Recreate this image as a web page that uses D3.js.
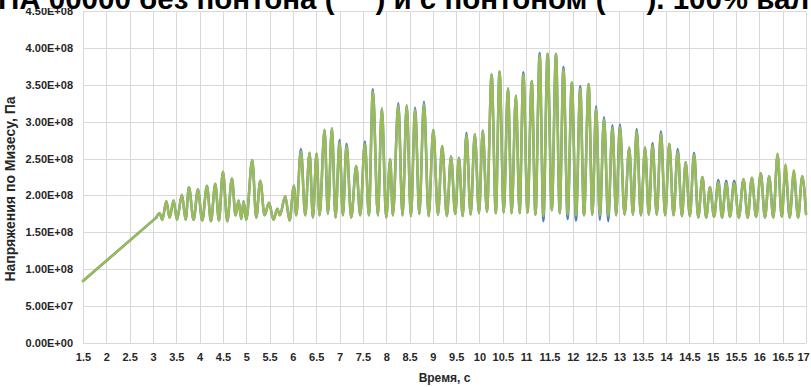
<!DOCTYPE html>
<html><head><meta charset="utf-8">
<script src="https://cdn.jsdelivr.net/npm/d3@7"></script>
<style>
html,body{margin:0;padding:0;background:#fff;overflow:hidden;}
svg{display:block;}
</style></head>
<body><svg id="chart" width="811" height="387"></svg>
<script>
const titleText = "НА 00000 без понтона (     ) и с понтоном (     ). 100% вал";
const yTitle = "Напряжения по Мизесу, Па";
const xTitle = "Время, с";
const xTicks = [1.5,2,2.5,3,3.5,4,4.5,5,5.5,6,6.5,7,7.5,8,8.5,9,9.5,10,10.5,11,11.5,12,12.5,13,13.5,14,14.5,15,15.5,16,16.5,17];
const yTicks = [0,5e7,1e8,1.5e8,2e8,2.5e8,3e8,3.5e8,4e8,4.5e8];

const times = [1.5,3.07,3.143,3.2,3.286,3.357,3.443,3.514,3.621,3.7,
3.771,3.871,3.964,4.057,4.157,4.243,4.336,4.414,4.5,4.593,
4.693,4.771,4.836,4.893,4.943,5.0,5.129,5.214,5.3,5.393,
5.486,5.586,5.664,5.721,5.836,5.929,6.021,6.071,6.171,6.264,
6.357,6.429,6.507,6.571,6.679,6.75,6.836,6.914,7.0,7.071,
7.15,7.25,7.357,7.443,7.543,7.629,7.714,7.821,7.907,8.0,
8.086,8.143,8.26,8.35,8.44,8.53,8.62,8.71,8.81,8.91,
9.01,9.11,9.20,9.30,9.39,9.48,9.56,9.64,9.72,9.81,
9.90,9.99,10.07,10.16,10.26,10.35,10.43,10.52,10.61,10.69,
10.78,10.86,10.94,11.03,11.12,11.20,11.29,11.37,11.46,11.55,
11.64,11.72,11.80,11.89,11.98,12.07,12.16,12.24,12.34,12.42,
12.50,12.58,12.67,12.76,12.85,12.93,13.01,13.11,13.21,13.29,
13.37,13.46,13.55,13.63,13.71,13.80,13.89,13.98,14.07,14.16,
14.25,14.34,14.42,14.51,14.60,14.69,14.78,14.86,14.94,15.03,
15.12,15.20,15.29,15.37,15.46,15.56,15.66,15.75,15.84,15.93,
16.03,16.12,16.21,16.30,16.39,16.48,16.56,16.65,16.74,16.83,
16.92,17.0];

// values in units of 1e8 Pa
const withoutPontoon = [0.84,1.70,1.76,1.67,1.92,1.70,1.93,1.67,2.01,1.67,
2.11,1.67,2.08,1.66,2.13,1.65,2.16,1.66,2.32,1.65,
2.23,1.73,1.93,1.68,1.92,1.67,2.48,1.70,2.20,1.73,
1.90,1.67,1.82,1.73,1.99,1.66,2.13,1.73,2.63,1.73,
2.58,1.70,2.57,1.73,2.89,1.75,2.91,1.70,2.75,1.73,
2.70,1.70,2.40,1.73,2.73,1.73,3.44,1.73,3.18,1.70,
2.49,1.73,3.25,1.73,3.22,1.72,3.19,1.75,3.27,1.72,
2.89,1.74,2.67,1.72,2.53,1.75,2.51,1.72,2.85,1.74,
2.83,1.76,2.88,1.78,3.64,1.76,3.68,1.77,3.45,1.76,
3.35,1.76,3.67,1.77,3.55,1.74,3.93,1.65,3.92,1.80,
3.92,1.76,3.74,1.68,3.53,1.66,3.48,1.73,3.51,1.74,
3.21,1.67,3.06,1.65,2.95,1.73,2.96,1.74,2.65,1.74,
2.90,1.73,2.65,1.74,2.71,1.74,2.87,1.73,2.70,1.73,
2.63,1.72,2.45,1.72,2.58,1.70,2.25,1.70,2.11,1.71,
2.21,1.70,2.20,1.71,2.20,1.70,2.22,1.70,2.24,1.71,
2.30,1.70,2.26,1.70,2.55,1.71,2.36,1.70,2.30,1.70,
2.26,1.75];

const withPontoon = [0.84,1.70,1.76,1.67,1.92,1.70,1.93,1.67,2.01,1.67,
2.11,1.67,2.08,1.66,2.13,1.65,2.16,1.66,2.32,1.65,
2.23,1.73,1.93,1.68,1.92,1.67,2.48,1.70,2.20,1.73,
1.90,1.67,1.82,1.73,1.99,1.66,2.13,1.73,2.60,1.73,
2.58,1.70,2.57,1.73,2.89,1.75,2.91,1.70,2.72,1.73,
2.67,1.70,2.40,1.73,2.70,1.73,3.41,1.73,3.18,1.70,
2.49,1.73,3.22,1.73,3.22,1.72,3.16,1.75,3.24,1.72,
2.89,1.74,2.67,1.72,2.53,1.75,2.51,1.72,2.82,1.74,
2.83,1.76,2.88,1.78,3.64,1.76,3.68,1.77,3.45,1.76,
3.35,1.76,3.64,1.77,3.55,1.74,3.90,1.72,3.92,1.80,
3.92,1.76,3.71,1.74,3.53,1.73,3.45,1.73,3.51,1.74,
3.18,1.73,3.03,1.72,2.92,1.73,2.93,1.74,2.65,1.74,
2.87,1.73,2.65,1.74,2.68,1.74,2.84,1.73,2.70,1.73,
2.60,1.72,2.45,1.72,2.55,1.70,2.25,1.70,2.11,1.71,
2.18,1.70,2.17,1.71,2.17,1.70,2.22,1.70,2.24,1.71,
2.30,1.70,2.26,1.70,2.57,1.71,2.42,1.70,2.34,1.70,
2.26,1.75];
const valueUnit = 1e8;

const svg = d3.select("#chart");
const m = {left:83, right:806, top:11, bottom:343};
const x = d3.scaleLinear().domain([1.5,17]).range([m.left,m.right]);
const y = d3.scaleLinear().domain([0,4.5e8]).range([m.bottom,m.top]);

const expFmt = v => {
  const s = v.toExponential(2).toUpperCase();
  const [mant, ex] = s.split("E");
  return mant + "E" + ex[0] + ex.slice(1).padStart(2,"0");
};
const xFmt = v => String(v);

const gridColor = "#d9d9d9";
svg.append("g").selectAll("line").data(xTicks).join("line")
  .attr("x1",d=>Math.round(x(d))+0.5).attr("x2",d=>Math.round(x(d))+0.5)
  .attr("y1",m.top).attr("y2",m.bottom).attr("stroke",gridColor).attr("stroke-width",1);
svg.append("g").selectAll("line").data(yTicks).join("line")
  .attr("x1",m.left).attr("x2",m.right)
  .attr("y1",d=>Math.round(y(d))+0.5).attr("y2",d=>Math.round(y(d))+0.5)
  .attr("stroke",gridColor).attr("stroke-width",1);

const tickFont = "'Liberation Sans Narrow','Arial Narrow',sans-serif";
const yAxis = d3.axisLeft(y).tickValues(yTicks).tickFormat(expFmt).tickSize(0).tickPadding(10);
const gy = svg.append("g").attr("transform",`translate(${m.left},0)`).call(yAxis);
gy.select(".domain").remove();
gy.selectAll("text").attr("font-family",tickFont)
  .attr("font-weight","bold").attr("font-size",11).attr("fill","#262626");

const xAxis = d3.axisBottom(x).tickValues(xTicks).tickFormat(xFmt).tickSize(0).tickPadding(10);
const gx = svg.append("g").attr("transform",`translate(0,${m.bottom})`).call(xAxis);
gx.select(".domain").remove();
gx.selectAll("text").attr("font-family",tickFont)
  .attr("font-weight","bold").attr("font-size",11).attr("fill","#262626")
  .attr("dx",(d,i)=> i===xTicks.length-1 ? -3 : 0);

// lines: straight loading ramp, then smooth oscillation
const ramp = d3.line().x((d,i)=>x(times[i])).y(d=>y(d*valueUnit));
const osc = d3.line().x(d=>x(d[0])).y(d=>y(d[1]*valueUnit)).curve(d3.curveMonotoneX);
function drawSeries(vals, color){
  const g = svg.append("g").attr("fill","none").attr("stroke",color)
    .attr("stroke-width",2.5).attr("stroke-linejoin","round").attr("stroke-linecap","round");
  g.append("path").attr("d",ramp(vals.slice(0,2)));
  g.append("path").attr("d",osc(vals.slice(1).map((v,i)=>[times[i+1],v])));
}
drawSeries(withoutPontoon,"#4f81bd");
drawSeries(withPontoon,"#9bbb59");

// title (cut at top edge as in reference)
svg.append("rect").attr("x",0).attr("y",0).attr("width",811).attr("height",8).attr("fill","#fff");
svg.append("text").attr("x",-2).attr("y",9).text(titleText)
  .attr("font-family","'Liberation Sans',Arial,sans-serif").attr("font-weight","bold")
  .attr("font-size",29.5).attr("fill","#000").style("white-space","pre");

svg.append("text").attr("transform",`translate(15,189) rotate(-90)`)
  .attr("text-anchor","middle").text(yTitle)
  .attr("font-family","'Liberation Sans',Arial,sans-serif").attr("font-weight","bold")
  .attr("font-size",14).attr("fill","#262626");
svg.append("text").attr("x",(m.left+m.right)/2).attr("y",382).attr("text-anchor","middle").text(xTitle)
  .attr("font-family",tickFont).attr("font-weight","bold")
  .attr("font-size",12).attr("fill","#262626");
</script></body></html>
